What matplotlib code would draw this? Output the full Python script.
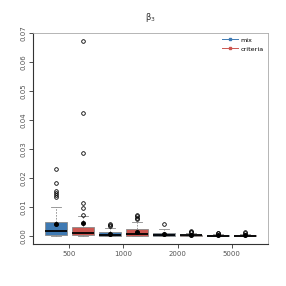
import matplotlib
matplotlib.use("Agg")
import matplotlib.pyplot as plt
from matplotlib.lines import Line2D

# sample sizes and methods
sizes = ["500", "1000", "2000", "5000"]
methods = ["mix", "criteria"]
colors = {"mix": "#3f7ab3", "criteria": "#cc5650"}

# box stats, order: mix500, crit500, mix1000, crit1000, ...
q1 = [0.0003, 0.0004, 0.0001, 0.0001, 0.0001, 0.0001, 0.00005, 0.0001]
med = [0.0018, 0.0012, 0.0005, 0.0008, 0.0003, 0.0003, 0.0002, 0.0002]
q3 = [0.0048, 0.0030, 0.0013, 0.0024, 0.0011, 0.0005, 0.0004, 0.0004]
whislo = [0.0, 0.0, 0.0, 0.0, 0.0, 0.0, 0.0, 0.0]
whishi = [0.0101, 0.0069, 0.0029, 0.0050, 0.0026, 0.0010, 0.0007, 0.0008]
means = [0.0042, 0.0046, 0.0008, 0.0013, 0.0006, 0.0005, 0.0003, 0.0004]
fliers = [
    [0.0232, 0.0182, 0.0157, 0.0149, 0.0143, 0.0136],
    [0.0673, 0.0426, 0.0288, 0.0114, 0.0096, 0.0072],
    [0.0035, 0.0040, 0.0042],
    [0.0058, 0.0062, 0.0068, 0.0072],
    [0.0043],
    [0.0013, 0.0016, 0.0019],
    [0.0010, 0.0012],
    [0.0010, 0.0013],
]

stats = []
for i in range(len(med)):
    stats.append({"q1": q1[i], "med": med[i], "q3": q3[i],
                  "whislo": whislo[i], "whishi": whishi[i],
                  "mean": means[i], "fliers": fliers[i]})

plt.rcParams["font.family"] = "DejaVu Sans"
plt.rcParams["mathtext.fontset"] = "dejavusans"

fig = plt.figure(figsize=(2.86, 2.86), dpi=100)
ax = fig.add_axes([33 / 286, 1 - 244 / 286, 235 / 286, 211 / 286])

positions = list(range(1, len(stats) + 1))
bp = ax.bxp(stats, positions=positions, widths=0.8, patch_artist=True,
            showmeans=True,
            boxprops=dict(edgecolor="#8a8a8a", linewidth=0.6),
            medianprops=dict(color="black", linewidth=1.3),
            whiskerprops=dict(color="#8a8a8a", linestyle=(0, (2, 1.5)), linewidth=0.6),
            capprops=dict(color="#8a8a8a", linewidth=0.6),
            capwidths=0.35,
            meanprops=dict(marker="o", markerfacecolor="black", markeredgecolor="black",
                           markersize=2.6),
            flierprops=dict(marker="o", markerfacecolor="none", markeredgecolor="black",
                            markersize=2.6, markeredgewidth=0.6))
for i, patch in enumerate(bp["boxes"]):
    patch.set_facecolor(colors[methods[i % 2]])

ax.set_xlim(0.15, 8.85)
ax.set_ylim(-0.0027, 0.07)
ax.set_xticks([1.5, 3.5, 5.5, 7.5])
ax.set_xticklabels(sizes)
ax.set_yticks([0.0, 0.01, 0.02, 0.03, 0.04, 0.05, 0.06, 0.07])
ax.set_yticklabels(["0.00", "0.01", "0.02", "0.03", "0.04", "0.05", "0.06", "0.07"],
                   rotation=90, va="center")
ax.tick_params(labelsize=5, labelcolor="#555555", length=3, width=0.6, color="#333333", pad=2)

for s in ["top", "right"]:
    ax.spines[s].set_color("#aaaaaa")
    ax.spines[s].set_linewidth(0.6)
for s in ["left", "bottom"]:
    ax.spines[s].set_color("#333333")
    ax.spines[s].set_linewidth(0.8)

ax.set_title("β$_3$", fontsize=6, color="#333333", pad=9)

handles = [Line2D([0], [0], color=colors[m], marker="s", markersize=1.6, linewidth=0.7)
           for m in methods]
ax.legend(handles, methods, loc="upper right", frameon=False, fontsize=4.6,
          handlelength=2.4, labelspacing=0.55, borderaxespad=0.15, handletextpad=0.5,
          borderpad=0.5)

fig.savefig("out.png", dpi=100)
